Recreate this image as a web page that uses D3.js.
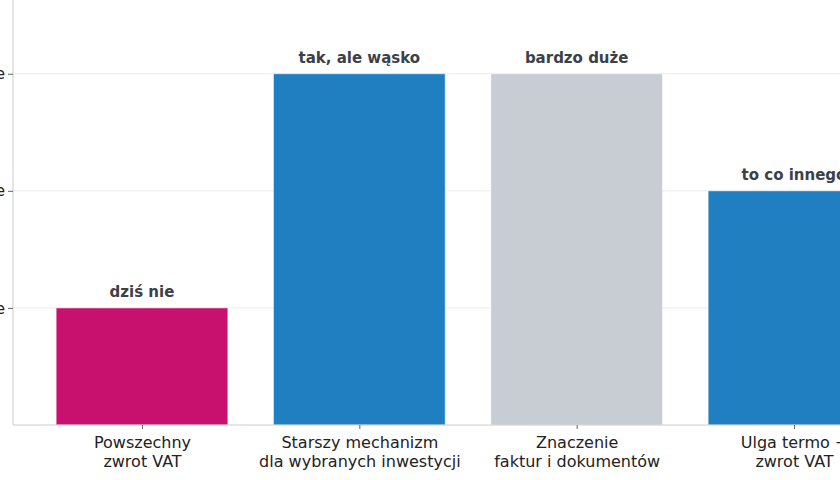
<!DOCTYPE html>
<html>
<head>
<meta charset="utf-8">
<script src="https://cdn.jsdelivr.net/npm/d3@7"></script>
<style>
  body { margin: 0; background: #fff; }
  svg { display: block; font-family: "DejaVu Sans", sans-serif; }
</style>
</head>
<body>
<svg id="chart" width="840" height="480"></svg>
<script>
// categories (two-line labels) and their level on the 0..3 scale
const categories = [
  ['Powszechny', 'zwrot VAT'],
  ['Starszy mechanizm', 'dla wybranych inwestycji'],
  ['Znaczenie', 'faktur i dokumentów'],
  ['Ulga termo +', 'zwrot VAT'],
];
const levels = [1, 3, 3, 2];
const valueLabels = ['dziś nie', 'tak, ale wąsko', 'bardzo duże', 'to co innego'];
const barColors = ['#c8116f', '#1f7fc1', '#c8cdd4', '#1f7fc1'];
const tickValues = [1, 2, 3];
const tickLabels = ['niskie', 'średnie', 'wysokie'];

const width = 840;
const height = 480;
const margin = { top: 0, left: 13, bottom: 55 };

const svg = d3.select('#chart');

const keys = categories.map((c) => c.join(' '));
// centres of the categories; the original figure was wider than this crop
const x = d3.scalePoint()
  .domain(keys)
  .range([142, 794]);
const barW = x.step() * 0.79;

const y = d3.scaleLinear()
  .domain([0, 3.63])
  .range([height - margin.bottom, margin.top]);

// grid lines
svg.append('g')
  .selectAll('line')
  .data(tickValues)
  .join('line')
    .attr('x1', margin.left)
    .attr('x2', width)
    .attr('y1', (d) => y(d))
    .attr('y2', (d) => y(d))
    .attr('stroke', '#ebebeb')
    .attr('stroke-width', 1);

// bars
svg.append('g')
  .selectAll('rect')
  .data(levels)
  .join('rect')
    .attr('x', (d, i) => x(keys[i]) - barW / 2)
    .attr('y', (d) => y(d))
    .attr('width', barW)
    .attr('height', (d) => y(0) - y(d))
    .attr('fill', (d, i) => barColors[i])
    .attr('stroke', '#ffffff')
    .attr('stroke-opacity', 0.5)
    .attr('stroke-width', 1);

// value labels above bars
svg.append('g')
  .selectAll('text')
  .data(levels)
  .join('text')
    .attr('x', (d, i) => x(keys[i]))
    .attr('y', (d) => y(d) - 11)
    .attr('text-anchor', 'middle')
    .attr('font-size', 15)
    .attr('font-weight', 'bold')
    .attr('fill', '#3b4148')
    .text((d, i) => valueLabels[i]);

// left axis
const yAxis = svg.append('g')
  .attr('transform', `translate(${margin.left},0)`)
  .call(d3.axisLeft(y)
    .tickValues(tickValues)
    .tickFormat((d, i) => tickLabels[i])
    .tickSizeInner(5)
    .tickSizeOuter(0)
    .tickPadding(3));
yAxis.select('.domain').attr('stroke', '#cccccc');
yAxis.selectAll('.tick line').attr('stroke', '#666');
yAxis.selectAll('.tick text')
  .attr('font-size', 16)
  .attr('font-family', '"DejaVu Sans", sans-serif')
  .attr('fill', '#222');
yAxis.select('.domain').attr('d', `M0,${y(0)}V0`);

// bottom axis
const xAxis = svg.append('g')
  .attr('transform', `translate(0,${y(0)})`)
  .call(d3.axisBottom(x).tickSizeInner(4).tickSizeOuter(0).tickFormat(''));
xAxis.select('.domain').attr('d', `M${margin.left},0H${width}`).attr('stroke', '#cccccc');
xAxis.selectAll('.tick line').attr('stroke', '#666');

// two-line category labels
xAxis.selectAll('.tick')
  .append('text')
    .attr('text-anchor', 'middle')
    .attr('font-size', 16)
    .attr('font-family', '"DejaVu Sans", sans-serif')
    .attr('fill', '#222')
    .selectAll('tspan')
    .data((d) => categories[keys.indexOf(d)])
    .join('tspan')
      .attr('x', 0)
      .attr('y', (d, i) => 23 + i * 19)
      .text((d) => d);
</script>
</body>
</html>
